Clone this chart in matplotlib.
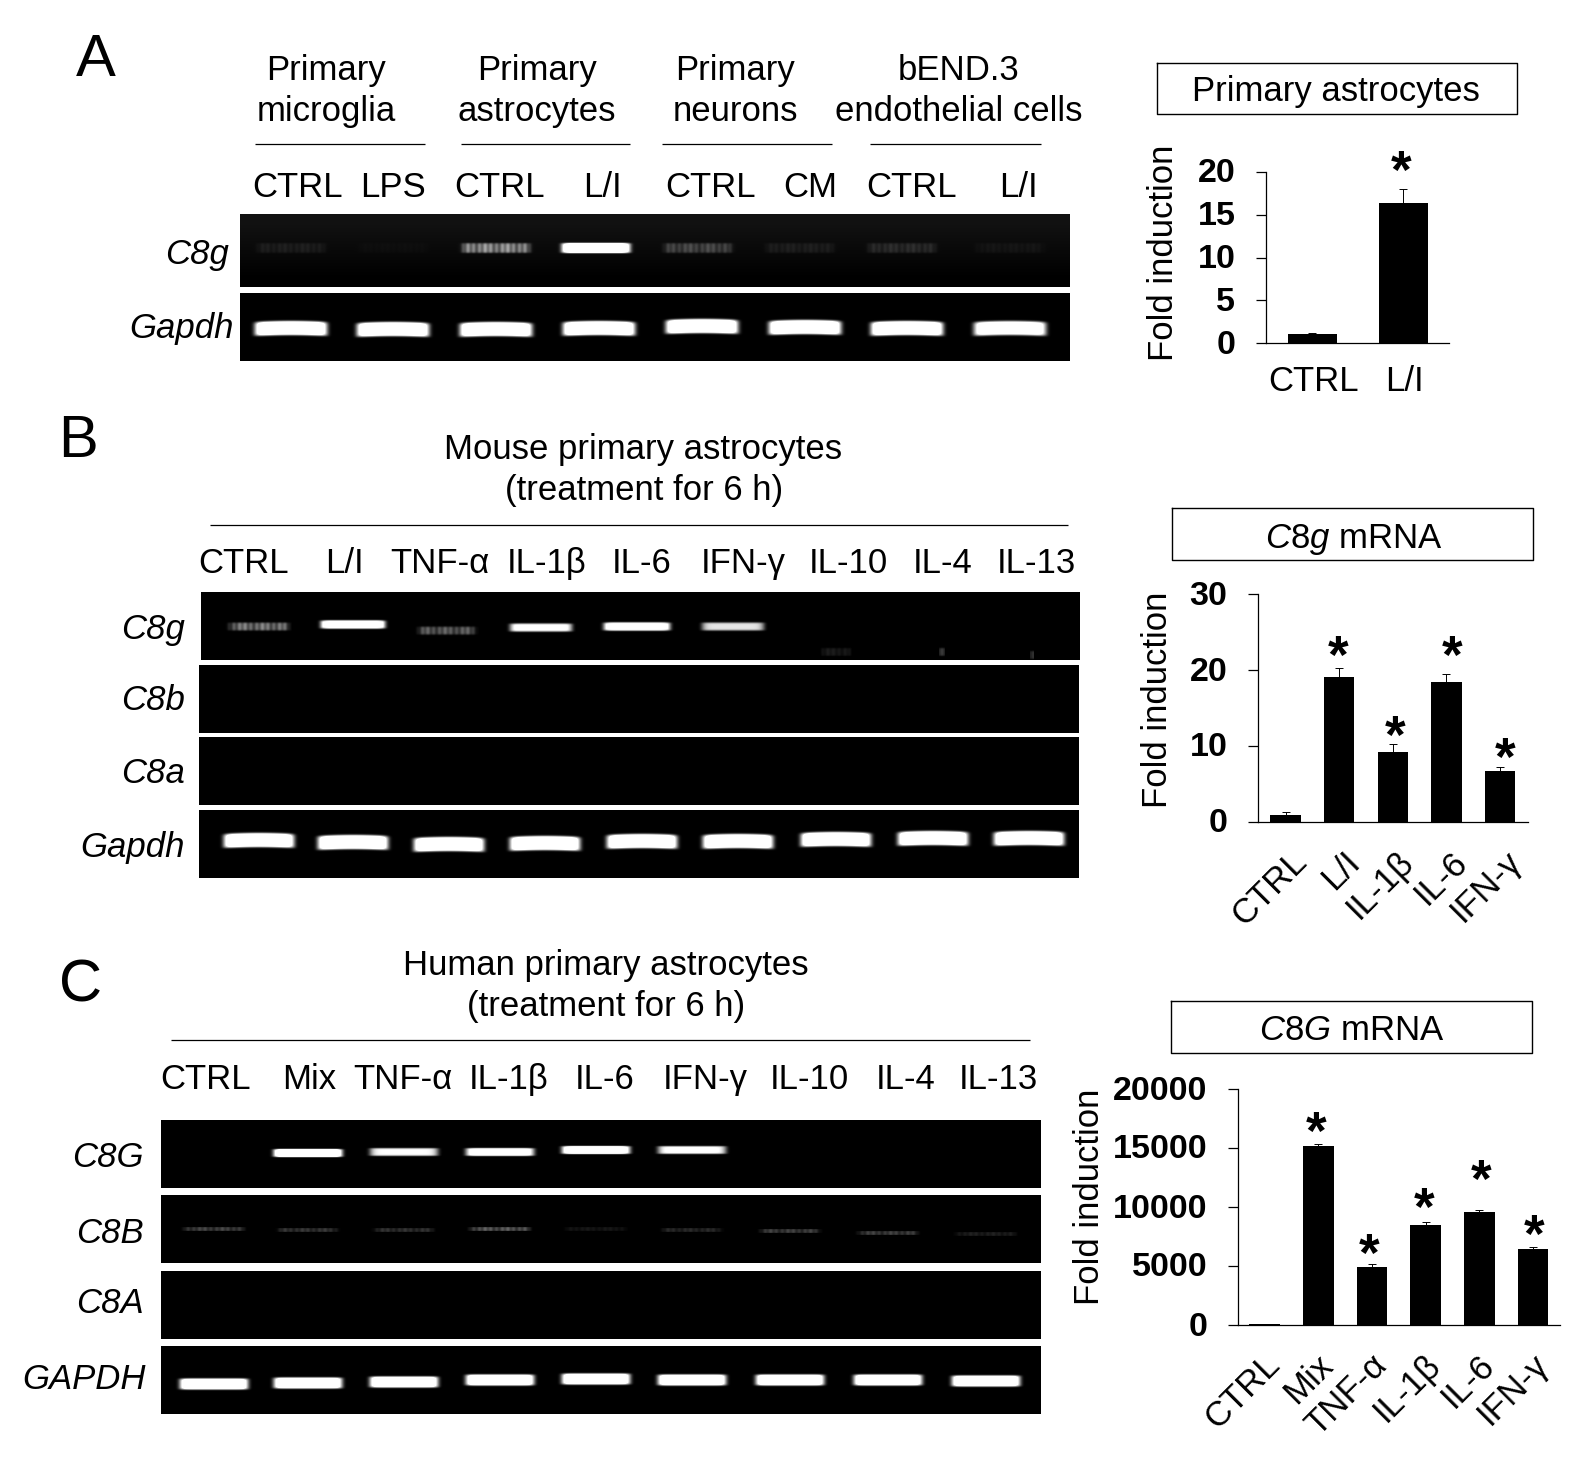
import numpy as np
import matplotlib
matplotlib.use("Agg")
import matplotlib.pyplot as plt
from matplotlib.transforms import ScaledTranslation

plt.rcParams['font.family'] = ['Liberation Sans', 'DejaVu Sans']
plt.rcParams['mathtext.fontset'] = 'custom'
plt.rcParams['mathtext.rm'] = 'Liberation Sans'
plt.rcParams['mathtext.it'] = 'Liberation Sans:italic'
plt.rcParams['mathtext.default'] = 'regular'

# ---------- data ----------
A_groups = [("Primary", "microglia"), ("Primary", "astrocytes"), ("Primary", "neurons"), ("bEND.3", "endothelial cells")]
A_lanes = ["CTRL", "LPS", "CTRL", "L/I", "CTRL", "CM", "CTRL", "L/I"]
A_C8g = [0.09, 0.02, 0.62, 1.7, 0.28, 0.09, 0.15, 0.05]
A_Gapdh = [1.6, 1.6, 1.6, 1.6, 1.6, 1.6, 1.6, 1.4]

B_lanes = ["CTRL", "L/I", "TNF-α", "IL-1β", "IL-6", "IFN-γ", "IL-10", "IL-4", "IL-13"]
B_C8g = [0.55, 1.6, 0.42, 1.15, 1.5, 0.9, 0.12, 0.3, 0.2]
B_C8b = [0.0] * 9
B_C8a = [0.0] * 9
B_Gapdh = [1.6] * 9

C_lanes = ["CTRL", "Mix", "TNF-α", "IL-1β", "IL-6", "IFN-γ", "IL-10", "IL-4", "IL-13"]
C_C8G = [0.0, 1.8, 1.0, 1.3, 1.5, 1.05, 0.0, 0.0, 0.0]
C_C8B = [0.3, 0.24, 0.22, 0.4, 0.1, 0.18, 0.28, 0.28, 0.14]
C_C8A = [0.0] * 9
C_GAPDH = [1.6] * 9

bar_A_labels = ["CTRL", "L/I"]
bar_A_vals = [1.0, 16.4]
bar_A_errs = [0.17, 1.66]

bar_B_labels = ["CTRL", "L/I", "IL-1β", "IL-6", "IFN-γ"]
bar_B_vals = [0.96, 19.08, 9.2, 18.4, 6.7]
bar_B_errs = [0.35, 1.12, 1.05, 1.05, 0.52]

bar_C_labels = ["CTRL", "Mix", "TNF-α", "IL-1β", "IL-6", "IFN-γ"]
bar_C_vals = [80, 15190, 4920, 8490, 9590, 6450]
bar_C_errs = [10, 140, 230, 250, 140, 140]

# ---------- layout ----------
W, H = 1596, 1472
fig = plt.figure(figsize=(W / 100, H / 100), dpi=100, facecolor='white')
ov = fig.add_axes([0, 0, 1, 1], zorder=5)
ov.set_xlim(0, W); ov.set_ylim(H, 0); ov.axis('off')

FS = 25
def T(x, y, s, ha='center', fs=FS, **kw):
    ov.text(x, y, s, ha=ha, va='baseline', fontsize=fs, color='black', **kw)

def axpx(l, t, r, b, **kw):
    return fig.add_axes([l / W, 1 - b / H, (r - l) / W, (b - t) / H], **kw)

def gel(box, lanes, amps, ys, w, h, bg=0.0, texture=False):
    l, t, r, b = box
    ax = axpx(l, t, r, b)
    xs = np.arange(l, r) + .5
    yy = np.arange(t, b) + .5
    X, Y = np.meshgrid(xs, yy)
    img = np.full(X.shape, 0.0)
    if bg:
        img += bg * np.clip(1.15 - (Y - t) / (b - t) * 1.3, 0, 1)
    widths = w if np.iterable(w) else [w] * len(lanes)
    for c, a, yc, wi in zip(lanes, amps, ys, widths):
        if a <= 0:
            continue
        u = (X - c) / (wi / 2)
        v = (Y - yc - 1.0 * u**2 * (1 if h > 11 else 0)) / (h / 2)
        core = np.exp(-np.abs(u)**12) * np.exp(-np.abs(v)**6)
        if a < 0.7 and texture:
            core = core * (0.72 + 0.16 * np.cos(X * 1.1 + 0.4) + 0.12 * np.cos(X * 0.31))
        img += a * core
    ax.imshow(np.clip(img, 0, 1), cmap='gray', vmin=0, vmax=1, extent=(l, r, b, t),
              aspect='auto', interpolation='bilinear')
    ax.set_xlim(l, r); ax.set_ylim(b, t)
    ax.axis('off')
    return ax

def barchart(box, cats, vals, errs, ymax, yticks, xlim, width, pad_x, rot, shift=(0, 0)):
    l, t, r, b = box
    ax = axpx(l, t, r, b)
    ax.patch.set_alpha(0)
    x = np.arange(len(cats))
    ax.bar(x, vals, width=width, color='black', zorder=2)
    ax.errorbar(x, vals, yerr=[np.zeros(len(errs)), errs], fmt='none', ecolor='black',
                elinewidth=0.7, capsize=3, capthick=0.7, zorder=1)
    ax.set_xlim(*xlim); ax.set_ylim(0, ymax)
    ax.set_yticks(yticks)
    ax.tick_params(axis='y', length=7.5, width=0.9, pad=14.5, labelsize=24.5)
    off_y = ScaledTranslation(0, 1.5 / 100, fig.dpi_scale_trans)
    for lb in ax.get_yticklabels():
        lb.set_fontweight('bold')
        lb.set_transform(lb.get_transform() + off_y)
    ax.set_xticks(x)
    if rot:
        ax.set_xticklabels(cats, rotation=45, ha='right', va='top', rotation_mode='anchor', fontsize=FS)
    else:
        ax.set_xticklabels(cats, fontsize=FS)
    ax.tick_params(axis='x', length=0, pad=pad_x)
    off_x = ScaledTranslation(shift[0] / 100, shift[1] / 100, fig.dpi_scale_trans)
    for lb in ax.get_xticklabels():
        lb.set_transform(lb.get_transform() + off_x)
    for s in ('top', 'right'):
        ax.spines[s].set_visible(False)
    for s in ('left', 'bottom'):
        ax.spines[s].set_linewidth(0.9)
    return ax

def star(x, yc, fs=38):
    em = fs * 100 / 72
    ov.text(x, yc - 4 + 0.575 * em, '*', ha='center', va='baseline', fontsize=fs, color='black', fontweight='bold')

def hline(y, x0, x1):
    ov.plot([x0, x1], [y, y], color='black', lw=0.9, solid_capstyle='butt')

def framebox(l, t, r, b):
    ov.plot([l, r, r, l, l], [t, t, b, b, t], color='black', lw=1.0)

# ---------- panel A ----------
T(96, 76, "A", fs=43)
for cx, (a, b) in zip([326, 537, 735, 959], A_groups):
    T(cx, 80, a)
    T(cx, 121, b)
for x0, x1 in [(255, 425), (461, 630), (662, 832), (870, 1041)]:
    hline(144, x0, x1)
for cx, s in zip([298, 393, 500, 602, 711, 810, 912, 1018], A_lanes):
    T(cx, 197, s)
T(229, 264, "C8g", ha='right', style='italic')
T(234, 338, "Gapdh", ha='right', style='italic')
gel((240, 214, 1070, 287), [291, 393, 496, 596, 698, 800, 902, 1010], A_C8g, [248] * 8, 68, 10, bg=0.07, texture=True)
gel((240, 293, 1070, 361), [291, 393, 496, 599, 702, 805, 907, 1010], A_Gapdh,
    [328, 329, 329, 328, 326, 327, 328, 328], 72, 14)

framebox(1157, 63, 1517, 114)
T(1336, 101, "Primary astrocytes")
ax = barchart((1266, 172, 1449, 343), bar_A_labels, bar_A_vals, bar_A_errs, 20, [0, 5, 10, 15, 20],
              (-0.51, 1.5), 0.54, 16, False, shift=(1, 0))
ov.text(1173, 253, "Fold induction", rotation=90, rotation_mode='anchor', ha='center', va='baseline', fontsize=FS)
star(1401, 162)

# ---------- panel B ----------
T(78, 457, "B", fs=43)
T(643, 459, "Mouse primary astrocytes")
T(644, 500, "(treatment for 6 h)")
hline(525, 210, 1068)
for cx, s in zip([244, 344, 440, 547, 642, 743, 848, 943, 1036], B_lanes):
    T(cx, 573, s)
for y, s in zip([639, 710, 783, 857], ["C8g", "C8b", "C8a", "Gapdh"]):
    T(185, y, s, ha='right', style='italic')
bl_g = [259, 353, 449, 545, 642, 738, 836, 933, 1029]
bl_c = [259, 353, 447, 541, 637, 733, 836, 942, 1032]
gel((201, 592, 1080, 660), bl_c, B_C8g, [627, 625, 631, 628, 627, 627, 652, 652, 655],
    [60, 64, 58, 62, 66, 62, 30, 6, 4], 8, texture=True)
gel((199, 665, 1079, 733), bl_g, B_C8b, [700] * 9, 60, 8)
gel((199, 737, 1079, 805), bl_g, B_C8a, [770] * 9, 60, 8)
gel((199, 810, 1079, 878), bl_g, B_Gapdh, [840, 842, 844, 843, 841, 841, 839, 838, 838], 70, 14)

framebox(1172, 508, 1533, 560)
T(1354, 548, r"$\mathit{C8g}$ mRNA")
ax = barchart((1258, 594, 1528, 822), bar_B_labels, bar_B_vals, bar_B_errs, 30, [0, 10, 20, 30],
              (-0.513, 4.52), 0.57, 18, True, shift=(4, 2))
ov.text(1167, 700, "Fold induction", rotation=90, rotation_mode='anchor', ha='center', va='baseline', fontsize=FS)
for x, y in zip([1338, 1395, 1452, 1505], [647, 727, 647, 749]):
    star(x, y)

# ---------- panel C ----------
T(81, 1001, "C", fs=43)
T(606, 975, "Human primary astrocytes")
T(606, 1016, "(treatment for 6 h)")
hline(1040, 171, 1030)
for cx, s in zip([206, 309, 403, 509, 605, 705, 809, 906, 998], C_lanes):
    T(cx, 1089, s)
for y, s, rx in zip([1167, 1243, 1313, 1389], ["C8G", "C8B", "C8A", "GAPDH"], [144, 144, 144, 146]):
    T(rx, y, s, ha='right', style='italic')
cl = [214, 308, 404, 500, 596, 692, 790, 888, 986]
gel((161, 1120, 1041, 1188), cl, C_C8G, [1153, 1153, 1152, 1152, 1150, 1150, 1150, 1150, 1150], 68, 8)
gel((161, 1195, 1041, 1263), cl, C_C8B, [1229, 1230, 1230, 1229, 1229, 1230, 1231, 1233, 1234], 60, 4, texture=True)
gel((161, 1271, 1041, 1339), cl, C_C8A, [1305] * 9, 60, 8)
gel((161, 1346, 1041, 1414), cl, C_GAPDH, [1384, 1383, 1382, 1380, 1379, 1380, 1380, 1380, 1381], 68, 11)

framebox(1171, 1001, 1532, 1053)
T(1352, 1040, r"$\mathit{C8G}$ mRNA")
ax = barchart((1238, 1089, 1560, 1325), bar_C_labels, bar_C_vals, bar_C_errs, 20000, [0, 5000, 10000, 15000, 20000],
              (-0.493, 5.5), 0.57, 18, True, shift=(-2, 2))
ov.text(1099, 1197, "Fold induction", rotation=90, rotation_mode='anchor', ha='center', va='baseline', fontsize=FS)
for x, y in zip([1316, 1369, 1424, 1481.5, 1534], [1123, 1245, 1199, 1171, 1226]):
    star(x, y)

fig.savefig("out.png", dpi=100, facecolor='white')
